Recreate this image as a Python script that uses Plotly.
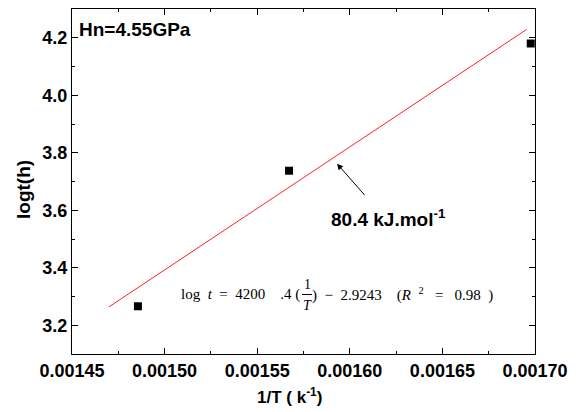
import plotly.graph_objects as go

# data
inv_T = [0.0014856, 0.0015672, 0.0016977]
log_t = [3.266, 3.7375, 4.180]
fit_x = [0.00147, 0.0016955]
fit_y = [3.264, 4.229]
x_ticks = [0.00145, 0.00150, 0.00155, 0.00160, 0.00165, 0.00170]
y_ticks = [3.2, 3.4, 3.6, 3.8, 4.0, 4.2]

W, H = 580, 412
L, R, T, B = 72, 45, 9, 58
pw, ph = W - L - R, H - T - B

def px(x):
    return (x - L) / pw

def py(y):
    return (H - B - y) / ph

fig = go.Figure()
fig.add_trace(go.Scatter(x=fit_x, y=fit_y, mode="lines",
                         line=dict(color="#ff2020", width=1), showlegend=False))
fig.add_trace(go.Scatter(x=inv_T, y=log_t, mode="markers",
                         marker=dict(symbol="square", size=8, color="black"), showlegend=False))

SANS = "Arial, Liberation Sans, sans-serif"
bold = dict(family=SANS, size=18, color="black", weight="bold")
axis_common = dict(showline=True, linecolor="black", linewidth=1, mirror="ticks",
                   ticks="inside", ticklen=6, tickcolor="black", showgrid=False,
                   zeroline=False, tickfont=bold)

fig.update_xaxes(range=[0.00145, 0.00170], tickvals=x_ticks,
                 ticktext=[f"{v:.5f}" for v in x_ticks],
                 minor=dict(ticks="inside", ticklen=3, dtick=0.000025, tick0=0.00145, tickcolor="black"),
                 **axis_common)
fig.update_yaxes(range=[3.1, 4.3], tickvals=y_ticks,
                 ticktext=[f"{v:.1f}" for v in y_ticks],
                 minor=dict(ticks="inside", ticklen=3, dtick=0.1, tick0=3.1, tickcolor="black"),
                 **axis_common)

SERIF = "Liberation Serif, Times New Roman, serif"
serif = dict(family=SERIF, size=15, color="black")
def bf(s):
    return dict(family=SANS, size=s, color="black", weight="bold")

ann = [
    dict(text="Hn=4.55GPa", x=px(77), y=py(30), xanchor="left", yanchor="middle",
         font=bf(19), showarrow=False),
    dict(text="logt(h)", x=px(24), y=py(190), textangle=-90, xanchor="center",
         yanchor="middle", font=bf(19), showarrow=False),
    dict(text="1/T ( k<sup>-1</sup>)", x=px(289), y=py(396), xanchor="center",
         yanchor="middle", font=bf(17), showarrow=False),
    dict(text="80.4 kJ.mol<sup>-1</sup>", x=px(388), y=py(218), xanchor="center",
         yanchor="middle", font=bf(19), showarrow=False),
    dict(x=0.0015931, y=3.762, xref="x", yref="y", ax=29, ay=33, text="",
         showarrow=True, arrowhead=2, arrowsize=1.2, arrowwidth=1, arrowcolor="black"),
    dict(text="log  <i>t</i>  =  4200    .4 (", x=px(302), y=py(294), xanchor="right",
         yanchor="middle", font=serif, showarrow=False),
    dict(text="1", x=px(307), y=py(284), xanchor="center", yanchor="middle",
         font=dict(family=SERIF, size=14, color="black"), showarrow=False),
    dict(text="<i>T</i>", x=px(307), y=py(305), xanchor="center", yanchor="middle",
         font=dict(family=SERIF, size=14, color="black"), showarrow=False),
    dict(text=")  −  2.9243    (<i>R</i>  <sup>2</sup>   =   0.98  )", x=px(310), y=py(294),
         xanchor="left", yanchor="middle", font=serif, showarrow=False),
]
for a in ann:
    a.setdefault("xref", "paper")
    a.setdefault("yref", "paper")
    fig.add_annotation(**a)

fig.add_shape(type="line", xref="paper", yref="paper",
              x0=px(302), x1=px(312), y0=py(294.5), y1=py(294.5),
              line=dict(color="black", width=1))

fig.update_layout(width=W, height=H, margin=dict(l=L, r=R, t=T, b=B),
                  plot_bgcolor="white", paper_bgcolor="white")
fig.write_html("out.html")
